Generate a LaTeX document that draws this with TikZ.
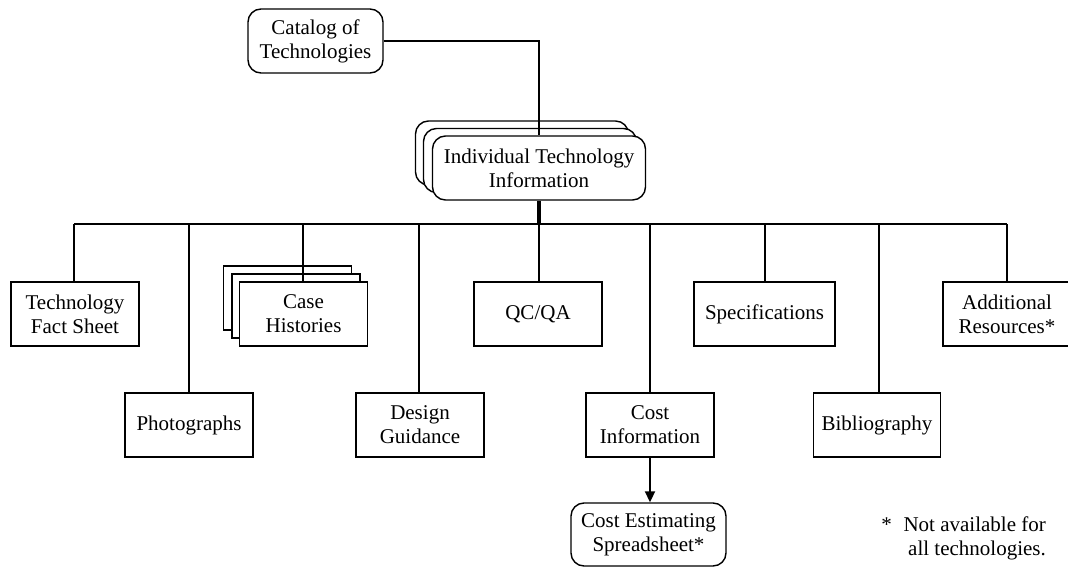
\documentclass[tikz,border=0pt]{standalone}
\usepackage{fontspec}
\setmainfont{Liberation Serif}
\usetikzlibrary{arrows.meta}
\begin{document}
\begin{tikzpicture}[x=1pt,y=-1pt,
  every node/.style={font=\fontsize{21}{24}\selectfont, align=center, inner sep=0pt},
  leaf/.style={draw, fill=white, line width=1.4pt, minimum width=128pt, minimum height=64pt},
  rleaf/.style={leaf, rounded corners=13pt},
  link/.style={line width=1.9pt},
  bus/.style={line width=2.4pt},
  trunk/.style={line width=3.2pt}]
\useasboundingbox (0,0) rectangle (1068,567);

% top level
\node[rleaf, minimum width=135pt] (cat) at (315.5,41) {Catalog of\\Technologies};
\node[rleaf, minimum width=213pt] (indback) at (522,153) {};
\node[rleaf, minimum width=213pt] (indmid) at (530,160.5) {};
\node[rleaf, minimum width=213pt] (ind) at (539,168) {Individual Technology\\Information};

% second level, upper row
\node[leaf] (tfs) at (75,314) {Technology\\Fact Sheet};
\node[leaf] (caseback) at (287.5,298) {};
\node[leaf] (casemid) at (296,306) {};
\node[leaf] (case) at (303.5,314) {Case\\Histories};
\node[leaf] (qcqa) at (538,314) {QC/QA};
\node[leaf, minimum width=141pt] (spec) at (764.5,314) {Specifications};
\node[leaf] (addl) at (1007,314) {Additional\\Resources*};

% second level, lower row
\node[leaf] (photo) at (189,425) {Photographs};
\node[leaf] (design) at (420,425) {Design\\Guidance};
\node[leaf] (cost) at (650,425) {Cost\\Information};
\node[leaf, minimum width=127pt] (biblio) at (877,425) {Bibliography};

% third level
\node[rleaf, minimum width=155pt, minimum height=63pt] (spread) at (648.5,534.5) {Cost Estimating\\Spreadsheet*};

% footnote
\node[anchor=east, align=right] (note) at (1046,538) {*\hspace{0.55em}Not available for\\all technologies.};

% connectors
\draw[link] (cat.east) -| (ind.north);
\coordinate (hub) at (539,224);
\draw[trunk] (ind.south) -- (hub);
\coordinate (busL) at (74,224);
\coordinate (busR) at (1007,224);
\draw[bus] (busL) -- (busR);
\foreach \n/\x in {tfs/74, photo/189, case/303, design/419, qcqa/539, cost/650, spec/765, biblio/879, addl/1007}{
  \coordinate (d-\n) at (\x,224);
  \draw[link] (d-\n) -- (d-\n |- \n.north);
}
\draw[link, -{Triangle[length=11pt,width=10pt]}] (cost.south) -- (cost.south |- spread.north);
\end{tikzpicture}
\end{document}
